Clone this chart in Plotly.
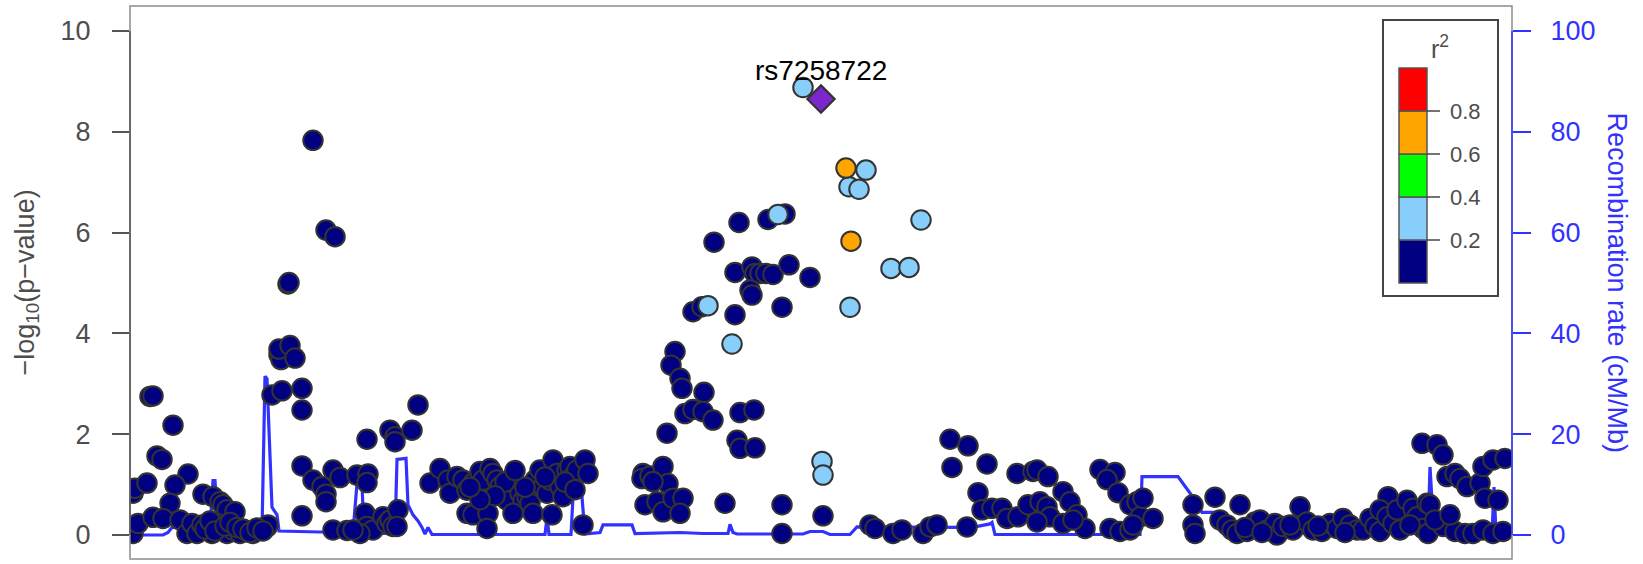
import plotly.graph_objects as go

# ---------------- data ----------------
# positions are kb from the left edge of the plotted region
navy_pos = [3, 5, 17, 3, 20, 23, 43, 27, 32, 58, 45, 40, 8, 23, 33,
            73, 83, 90, 93, 97, 105,
            50, 57, 62, 67, 72, 77, 82, 87, 90, 97, 103, 110, 117, 123, 130, 137, 138,
            75, 80, 85, 95, 100, 107, 113, 120, 127, 133,
            142, 152, 172, 172, 172, 172,
            149, 151, 149, 160, 165, 158, 159, 183, 196, 205,
            183, 192, 196, 196, 203, 210, 203, 217,
            227, 238, 237, 237, 235, 237, 243, 230, 223,
            253, 257, 260, 263, 268, 267, 260, 265, 265, 282, 288,
            300, 310, 318, 320, 327, 333, 337, 337, 343, 358, 357,
            343, 350, 353, 360, 363, 367, 370, 373, 377, 383, 387, 390, 393, 397, 400, 383, 403,
            405, 410, 413, 417, 420, 423, 427, 430, 433, 437, 440, 443, 447, 455, 458, 422, 453,
            375, 395, 415, 435, 445, 385, 365, 350, 340,
            513, 512, 520, 533, 538, 523,
            515, 527, 533, 543, 553, 550,
            595, 652, 652, 693,
            740, 745, 763, 772, 793, 800, 807, 837,
            820, 838, 822, 857, 848,
            852, 862, 872, 877,
            887, 903, 907, 918,
            888, 898, 910, 917, 920, 907,
            933, 940, 947, 955, 933, 943,
            970, 985, 977, 988,
            980, 990, 1000, 1000, 1007, 1010, 1003,
            609, 638, 655, 584, 605, 622, 625, 630, 636, 643, 659, 620, 622, 680,
            563, 572, 605, 652, 545, 541, 550, 552, 574, 555, 563, 573, 583, 610,
            624, 537, 607, 610, 625,
            1013, 1023, 1063, 1063, 1065, 1085, 1110,
            1090, 1097, 1102, 1107, 1117, 1125, 1130, 1137, 1145, 1147, 1153, 1163,
            1170,
            1177, 1183, 1192, 1200, 1207, 1213, 1220, 1227, 1233, 1240, 1245, 1250,
            1258, 1250, 1257, 1263, 1267,
            1277, 1283, 1287, 1293, 1297, 1300, 1298,
            1292, 1307, 1313, 1317, 1325, 1330, 1337, 1350, 1353, 1363, 1375,
            1355, 1368,
            1313, 1325, 1335, 1343, 1353, 1363, 1373,
            1115, 1132, 1160, 1188, 1215, 1270, 1280, 1305, 1320]
navy_logp = [0.83, 0.93, 1.03, 0.03, 2.75, 2.76, 2.18, 1.57, 1.50, 1.21, 0.99, 0.63, 0.23, 0.35, 0.33,
             0.81, 0.76, 0.66, 0.60, 0.50, 0.46,
             0.30, 0.03, 0.23, 0.03, 0.20, 0.16, 0.03, 0.23, 0.10, 0.03, 0.10, 0.03, 0.07, 0.03, 0.10, 0.16, 0.20,
             0.12, 0.28, 0.08, 0.18, 0.25, 0.15, 0.12, 0.05, 0.14, 0.08,
             2.78, 2.86, 2.91, 2.48, 1.37, 0.38,
             3.58, 3.48, 3.69, 3.76, 3.51, 4.98, 5.01, 7.83, 6.05, 5.92,
             1.09, 0.96, 0.81, 0.66, 1.29, 1.14, 0.10, 0.09,
             1.19, 1.21, 1.04, 1.90, 0.43, 0.17, 0.10, 0.03, 0.10,
             0.36, 0.23, 0.30, 0.17, 0.50, 0.17, 2.08, 1.95, 1.85, 2.08, 2.58,
             1.03, 1.32, 1.09, 0.83, 1.16, 1.09, 0.89, 0.43, 0.40, 0.43, 0.13,
             1.03, 1.26, 1.09, 1.32, 1.22, 1.09, 0.96, 0.83, 0.69, 1.16, 1.00, 0.83, 0.69, 0.76, 0.63, 0.43, 0.43,
             1.09, 1.29, 0.96, 0.83, 1.09, 1.49, 1.22, 0.96, 0.76, 1.29, 1.36, 1.16, 1.29, 1.49, 1.22, 0.40, 0.20,
             1.05, 0.95, 1.15, 1.05, 0.90, 1.28, 0.78, 0.70, 0.95,
             1.22, 1.12, 1.17, 1.36, 1.02, 1.06,
             0.60, 0.66, 0.46, 0.73, 0.73, 0.43,
             0.63, 0.60, 0.03, 0.38,
             0.20, 0.13, 0.03, 0.10, 0.03, 0.16, 0.20, 0.16,
             1.90, 1.77, 1.34, 1.41, 0.84,
             0.50, 0.53, 0.53, 0.33,
             1.22, 1.26, 1.29, 1.16,
             0.36, 0.60, 0.66, 0.56, 0.36, 0.26,
             0.86, 0.66, 0.40, 0.13, 0.23, 0.30,
             1.30, 1.24, 1.10, 0.84,
             0.13, 0.07, 0.10, 0.60, 0.66, 0.36, 0.20,
             6.20, 6.26, 6.37, 5.81, 5.21, 5.32, 5.19, 5.19, 5.19, 5.17, 5.36, 4.86, 4.76, 5.11,
             4.43, 4.53, 4.37, 4.52, 3.64, 3.37, 3.11, 2.91, 2.83, 2.41, 2.49, 2.45, 2.28, 2.43,
             2.48, 2.02, 1.88, 1.72, 1.73,
             0.73, 0.33, 0.60, 0.20, 0.03, 0.75, 0.60,
             0.30, 0.20, 0.10, 0.03, 0.07, 0.26, 0.30, 0.10, 0.23, 0.00, 0.17, 0.10,
             0.56,
             0.26, 0.10, 0.07, 0.23, 0.13, 0.33, 0.20, 0.10, 0.10, 0.33, 0.17, 0.07,
             0.76, 0.50, 0.36, 0.23, 0.50,
             0.69, 0.53, 0.36, 0.13, 0.63, 0.60, 0.03,
             1.82, 1.79, 1.59, 1.16, 1.22, 1.12, 0.96, 1.03, 1.36, 1.49, 1.52,
             0.73, 0.69,
             0.17, 0.07, 0.03, 0.03, 0.10, 0.03, 0.07,
             0.15, 0.05, 0.20, 0.18, 0.05, 0.10, 0.20, 0.30, 0.40]

lightblue_pos = [673, 736, 719, 729, 791, 761, 779, 720, 648, 578, 602, 692, 693]
lightblue_logp = [8.88, 7.24, 6.91, 6.86, 6.25, 5.29, 5.31, 4.52, 6.36, 4.55, 3.79, 1.46, 1.19]

orange_pos = [716, 721]
orange_logp = [7.28, 5.83]

lead_snp = "rs7258722"
lead_pos = [691]
lead_logp = [8.65]

recomb_pos = [0, 33, 38, 42, 70, 80, 83, 85, 88, 110, 132, 135, 137, 142, 147, 149,
              190, 223, 227, 232, 234, 265, 267, 276, 278, 283, 288, 292, 295, 298, 302,
              415, 417, 419, 441, 443, 452, 455, 470, 473, 502, 505, 550, 573, 598, 600,
              603, 607, 673, 680, 693, 700, 720, 727, 833, 845, 860, 862, 865, 1010, 1012,
              1048, 1063, 1072, 1090, 1093, 1273, 1298, 1300, 1303, 1310, 1313, 1317, 1320,
              1362, 1364, 1366, 1382]
recomb_rate = [0.0, 0.0, 0.5, 1.5, 1.5, 1.2, 10.8, 10.8, 1.0, 0.5, 0.8, 31.5, 31.0, 5.5, 4.0, 0.8,
               0.6, 0.6, 10.2, 10.2, 0.3, 0.3, 15.0, 15.2, 6.0, 4.0, 2.8, 1.5, 0.2, 1.5, 0.1,
               0.1, 3.5, 0.1, 0.1, 7.5, 7.5, 0.2, 0.5, 2.0, 2.0, 0.3, 0.5, 0.3, 0.3, 2.1,
               0.5, 0.2, 0.2, 0.7, 0.7, 0.1, 0.1, 1.6, 1.5, 1.6, 2.2, 2.5, 0.1, 0.1, 11.6,
               11.6, 7.5, 4.5, 4.5, 0.4, 0.4, 0.5, 13.5, 3.5, 3.5, 4.2, 0.3, 0.2,
               0.2, 9.5, 0.3, 0.3]

ld_breaks = ["0.2", "0.4", "0.6", "0.8"]
ld_colors = ["#000080", "#87CEFA", "#00FF00", "#FFA500", "#FF0000"]  # low -> high
lead_color = "#7D26CD"

logp_ticks = [0, 2, 4, 6, 8, 10]
recomb_ticks = [0, 20, 40, 60, 80, 100]

# ---------------- layout constants ----------------
W, H = 1643, 564
L, R, T, B = 130, 1512, 6, 559          # plot area in pixels
BLUE = "#3232FF"
GREY_TXT = "#4D4D4D"
FONT = "Liberation Sans, Arial, Helvetica, sans-serif"

def xp(px):
    return (px - L) / (R - L)

def yp(py):
    return (B - py) / (B - T)

fig = go.Figure()

# recombination line on primary (right) axis so the points (overlay) draw above it
fig.add_trace(go.Scatter(x=recomb_pos, y=recomb_rate, mode="lines",
                         line=dict(color=BLUE, width=3.2), yaxis="y",
                         hoverinfo="skip", showlegend=False))

pt_line = dict(color="#333333", width=2)
fig.add_trace(go.Scatter(x=navy_pos, y=navy_logp, mode="markers", yaxis="y2",
                         marker=dict(size=19.5, color=ld_colors[0], line=pt_line),
                         showlegend=False))
fig.add_trace(go.Scatter(x=lightblue_pos, y=lightblue_logp, mode="markers", yaxis="y2",
                         marker=dict(size=19.5, color=ld_colors[1], line=pt_line),
                         showlegend=False))
fig.add_trace(go.Scatter(x=orange_pos, y=orange_logp, mode="markers", yaxis="y2",
                         marker=dict(size=19.5, color=ld_colors[3], line=pt_line),
                         showlegend=False))
fig.add_trace(go.Scatter(x=lead_pos, y=lead_logp, mode="markers", yaxis="y2",
                         marker=dict(size=21, symbol="diamond", color=lead_color,
                                     line=dict(color="#333333", width=2.2)),
                         showlegend=False))

shapes = []
annotations = []

# frame
shapes.append(dict(type="rect", xref="paper", yref="paper", x0=0, x1=1, y0=0, y1=1,
                   line=dict(color="#8C8C8C", width=1.5), layer="above"))
# left axis line (0..10)
shapes.append(dict(type="line", xref="paper", yref="y2", x0=0, x1=0,
                   y0=logp_ticks[0], y1=logp_ticks[-1],
                   line=dict(color="#555555", width=1.5), layer="above"))
# right axis line (0..100)
shapes.append(dict(type="line", xref="paper", yref="y", x0=1, x1=1,
                   y0=recomb_ticks[0], y1=recomb_ticks[-1],
                   line=dict(color=BLUE, width=1.5), layer="above"))

# lead SNP label
annotations.append(dict(x=lead_pos[0], y=lead_logp[0], xref="x", yref="y2",
                        text=lead_snp, showarrow=False, yshift=29,
                        font=dict(size=28, color="black", family=FONT)))

# axis titles
annotations.append(dict(x=xp(26), y=0.5, xref="paper", yref="paper",
                        text="\u2212log<sub>10</sub>(p\u2212value)", textangle=-90,
                        showarrow=False, xanchor="center", yanchor="middle",
                        font=dict(size=27, color=GREY_TXT, family=FONT)))
annotations.append(dict(x=xp(1617), y=0.5, xref="paper", yref="paper",
                        text="Recombination rate (cM/Mb)", textangle=90,
                        showarrow=False, xanchor="center", yanchor="middle",
                        font=dict(size=27, color=BLUE, family=FONT)))

# r^2 legend
box = (1383, 1498, 20, 296)
shapes.append(dict(type="rect", xref="paper", yref="paper",
                   x0=xp(box[0]), x1=xp(box[1]), y0=yp(box[3]), y1=yp(box[2]),
                   fillcolor="white", line=dict(color="#444444", width=2), layer="above"))
bar_x0, bar_x1, bar_top, bar_bot = 1399, 1427, 68, 283
seg = (bar_bot - bar_top) / len(ld_colors)
for i, c in enumerate(ld_colors):
    y_low = bar_bot - i * seg
    y_high = y_low - seg
    shapes.append(dict(type="rect", xref="paper", yref="paper",
                       x0=xp(bar_x0), x1=xp(bar_x1), y0=yp(y_low), y1=yp(y_high),
                       fillcolor=c, line=dict(color="#555555", width=1.5), layer="above"))
for i, lab in enumerate(ld_breaks):
    yb = bar_bot - (i + 1) * seg
    shapes.append(dict(type="line", xref="paper", yref="paper",
                       x0=xp(bar_x1), x1=xp(bar_x1 + 13), y0=yp(yb), y1=yp(yb),
                       line=dict(color="#444444", width=1.5), layer="above"))
    annotations.append(dict(x=xp(bar_x1 + 21), y=yp(yb), xref="paper", yref="paper",
                            text=lab, showarrow=False, xanchor="left", yanchor="middle",
                            font=dict(size=22, color=GREY_TXT, family=FONT)))
annotations.append(dict(x=xp(1440), y=yp(47), xref="paper", yref="paper",
                        text="r<sup>2</sup>", showarrow=False, xanchor="center",
                        yanchor="middle", font=dict(size=25, color=GREY_TXT, family=FONT)))

fig.update_layout(
    width=W, height=H,
    margin=dict(l=L, r=W - R, t=T, b=H - B, pad=0),
    paper_bgcolor="white", plot_bgcolor="white",
    showlegend=False,
    font=dict(family=FONT),
    xaxis=dict(range=[0, R - L], visible=False, showgrid=False, zeroline=False),
    yaxis=dict(range=[-4.76, 104.96], side="right", tickvals=recomb_ticks,
               ticks="outside", ticklen=18, tickwidth=1.5, tickcolor=BLUE,
               tickfont=dict(size=27, color=BLUE, family=FONT),
               showgrid=False, zeroline=False, showline=False,
               ticklabelstandoff=14),
    yaxis2=dict(range=[-0.476, 10.496], side="left", overlaying="y",
                tickvals=logp_ticks, ticks="outside", ticklen=17, tickwidth=1.5,
                tickcolor="#555555", tickfont=dict(size=27, color=GREY_TXT, family=FONT),
                showgrid=False, zeroline=False, showline=False,
                ticklabelstandoff=16),
    shapes=shapes, annotations=annotations,
)

fig.write_html("out.html",
               config={"displayModeBar": False},
               post_script="document.body.style.margin='0px';document.body.style.padding='0px';")
